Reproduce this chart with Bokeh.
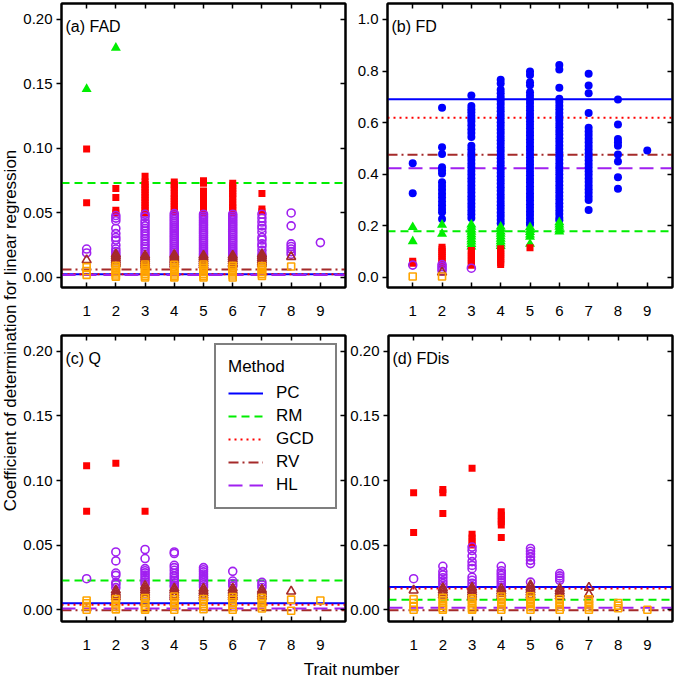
import math
from bokeh.plotting import figure
from bokeh.models import (Range1d, LinearAxis, FixedTicker, PrintfTickFormatter,
                          CustomJSTickFormatter, Label, Legend, LegendItem)
from bokeh.layouts import row, column
from bokeh.embed import file_html
from bokeh.resources import INLINE

FONT = "Liberation Sans"

# ---------------- data ----------------
traits = [1, 2, 3, 4, 5, 6, 7, 8, 9]
method_names = ["PC", "RM", "GCD", "RV", "HL"]
method_colors = ["#0000ff", "#00ee00", "#ff0000", "#a52a2a", "#a020f0"]
extra_color = "#ffa500"

# (a) FAD  -- one list of R^2 values per trait number
fad_pc = [[], [], [], [], [], [], [], [], []]
fad_rm = [[0.146], [0.178], [], [], [], [], [], [], []]
fad_gcd = [
    [0.0995, 0.058],
    [0.069, 0.062, 0.052, 0.050],
    [0.0785, 0.074, 0.072, 0.070, 0.068, 0.066, 0.064, 0.062, 0.060, 0.058, 0.056, 0.054, 0.052, 0.050],
    [0.074, 0.072, 0.070, 0.068, 0.065, 0.063, 0.061, 0.059, 0.057, 0.055, 0.053, 0.051],
    [0.075, 0.073, 0.067, 0.065, 0.062, 0.060, 0.058, 0.056, 0.054, 0.052, 0.050],
    [0.073, 0.071, 0.069, 0.067, 0.065, 0.063, 0.061, 0.058, 0.056, 0.054, 0.052, 0.050],
    [0.065, 0.053, 0.051],
    [], []]
fad_hl = [
    [0.022, 0.019],
    [0.048, 0.046, 0.044, 0.038, 0.034, 0.031, 0.029, 0.025, 0.022, 0.020, 0.018, 0.016],
    [0.049, 0.047, 0.044, 0.042, 0.040, 0.038, 0.036, 0.034, 0.032, 0.030, 0.028, 0.026, 0.024, 0.022, 0.020, 0.018, 0.016],
    [0.0495, 0.048, 0.0465, 0.045, 0.0435, 0.042, 0.0405, 0.039, 0.0375, 0.036, 0.0345, 0.033, 0.0315,
     0.030, 0.0285, 0.027, 0.0255, 0.024, 0.0225, 0.021, 0.0195, 0.018, 0.0165],
    [0.049, 0.0475, 0.046, 0.0445, 0.043, 0.0415, 0.040, 0.0385, 0.037, 0.0355, 0.034, 0.0325, 0.031,
     0.0295, 0.028, 0.0265, 0.025, 0.0235, 0.022, 0.0205, 0.019, 0.0175, 0.016],
    [0.049, 0.0475, 0.046, 0.0445, 0.043, 0.0415, 0.040, 0.0385, 0.037, 0.0355, 0.034, 0.0325, 0.031,
     0.0295, 0.028, 0.0265, 0.025, 0.0235, 0.022, 0.0205, 0.019, 0.0175, 0.016],
    [0.049, 0.046, 0.043, 0.040, 0.038, 0.035, 0.031, 0.029, 0.026, 0.024, 0.021, 0.018, 0.016],
    [0.050, 0.040, 0.026, 0.024, 0.022, 0.020, 0.018],
    [0.027]]
fad_rv = [
    [0.0135],
    [0.018, 0.0165, 0.015, 0.0135, 0.012, 0.0105],
    [0.017, 0.0155, 0.014, 0.0125, 0.011, 0.0095],
    [0.0175, 0.016, 0.0145, 0.013, 0.0115, 0.010],
    [0.017, 0.0155, 0.014, 0.0125, 0.011, 0.0095],
    [0.017, 0.0155, 0.014, 0.0125, 0.011, 0.010],
    [0.018, 0.0165, 0.015, 0.0135, 0.012, 0.0105],
    [0.016],
    []]
fad_or = [
    [0.008, 0.005, 0.002],
    [0.009, 0.0075, 0.006, 0.0045, 0.003, 0.0015, 0.0005],
    [0.010, 0.0085, 0.007, 0.0055, 0.004, 0.0025, 0.001, 0.0],
    [0.0098, 0.0083, 0.0068, 0.0053, 0.0038, 0.0023, 0.0008, 0.0],
    [0.010, 0.0085, 0.007, 0.0055, 0.004, 0.0025, 0.001, 0.0],
    [0.009, 0.0075, 0.006, 0.0045, 0.003, 0.0015, 0.0],
    [0.0088, 0.0072, 0.0057, 0.0042, 0.0027, 0.0012],
    [0.0085],
    []]
fad_lines = [0.0025, 0.0733, 0.0025, 0.0062, 0.0018]   # PC, RM, GCD, RV, HL

# (b) FD
fd_pc = [
    [0.443, 0.327],
    [0.658, 0.505, 0.479, 0.427, 0.415, 0.403, 0.369, 0.355, 0.34, 0.325, 0.31, 0.295, 0.28, 0.265, 0.253, 0.227],
    [0.705, 0.665, 0.652, 0.64, 0.627, 0.615, 0.605, 0.59, 0.575, 0.56, 0.545, 0.511, 0.497, 0.483, 0.469,
     0.455, 0.441, 0.427, 0.413, 0.399, 0.385, 0.371, 0.357, 0.343, 0.329, 0.315, 0.301, 0.287, 0.273,
     0.259, 0.245, 0.231],
    [0.766, 0.752, 0.728, 0.714, 0.70, 0.686, 0.672, 0.658, 0.644, 0.63, 0.616, 0.602, 0.588, 0.574,
     0.56, 0.546, 0.532, 0.518, 0.504, 0.49, 0.476, 0.462, 0.448, 0.434, 0.42, 0.406, 0.392, 0.378,
     0.364, 0.35, 0.336, 0.322, 0.308, 0.294, 0.28, 0.266, 0.252, 0.238, 0.224, 0.21],
    [0.798, 0.785, 0.757, 0.745, 0.718, 0.704, 0.69, 0.676, 0.662, 0.648, 0.634, 0.62, 0.606, 0.592,
     0.578, 0.564, 0.55, 0.536, 0.522, 0.508, 0.494, 0.48, 0.466, 0.452, 0.438, 0.424, 0.41, 0.396,
     0.382, 0.368, 0.354, 0.34, 0.326, 0.312, 0.298, 0.284, 0.27, 0.256, 0.242, 0.228, 0.214, 0.205],
    [0.824, 0.806, 0.735, 0.693, 0.68, 0.666, 0.652, 0.638, 0.624, 0.61, 0.596, 0.582, 0.568, 0.554,
     0.54, 0.526, 0.512, 0.498, 0.484, 0.47, 0.456, 0.442, 0.428, 0.414, 0.40, 0.386, 0.372, 0.358,
     0.344, 0.33, 0.316, 0.302, 0.288, 0.274, 0.26, 0.246, 0.232, 0.222],
    [0.79, 0.744, 0.714, 0.638, 0.58, 0.566, 0.552, 0.538, 0.524, 0.51, 0.496, 0.482, 0.468, 0.454,
     0.44, 0.426, 0.412, 0.398, 0.384, 0.37, 0.356, 0.342, 0.328, 0.314, 0.30, 0.262],
    [0.69, 0.593, 0.537, 0.524, 0.511, 0.477, 0.45, 0.389, 0.344],
    [0.492]]
fd_rm = [
    [0.195, 0.14],
    [0.204, 0.169],
    [0.205, 0.196, 0.186, 0.177, 0.167, 0.158, 0.148, 0.139, 0.129, 0.12],
    [0.197, 0.188, 0.178, 0.169, 0.159, 0.15, 0.14, 0.131, 0.122],
    [0.195, 0.185, 0.176, 0.166, 0.157, 0.13],
    [0.214, 0.205, 0.196, 0.186, 0.178],
    [], [], []]
fd_gcd = [
    [0.063, 0.055],
    [0.117, 0.109, 0.101, 0.093, 0.085, 0.077, 0.069, 0.061, 0.05],
    [0.105, 0.098, 0.09, 0.083, 0.076, 0.068, 0.061, 0.054, 0.047],
    [0.111, 0.104, 0.097, 0.09, 0.082, 0.075, 0.068, 0.058, 0.05],
    [0.115],
    [], [], [], []]
fd_hl = [[0.048], [0.05, 0.042, 0.034, 0.026], [0.036], [], [], [], [], [], []]
fd_rv = [[], [0.02], [], [], [], [], [], [], []]
fd_or = [[0.004], [0.004], [], [], [], [], [], [], []]
fd_lines = [0.691, 0.179, 0.619, 0.4755, 0.4237]

# (c) Q
q_pc = [[], [], [], [], [], [], [], [], []]
q_rm = [[], [], [], [], [], [], [], [], []]
q_gcd = [[0.1115, 0.0763], [0.1134], [0.0763], [], [], [], [], [], []]
q_hl = [
    [0.024],
    [0.0447, 0.0378, 0.0284, 0.0266, 0.021, 0.0196, 0.0171],
    [0.0466, 0.0396, 0.0318, 0.0302, 0.0285, 0.0268, 0.025, 0.0233, 0.0215, 0.0198],
    [0.0447, 0.0435, 0.0344, 0.0326, 0.0305, 0.0282, 0.0262, 0.0243, 0.0225, 0.0208, 0.019, 0.0176],
    [0.0326, 0.031, 0.0293, 0.0276, 0.026, 0.0244, 0.0228, 0.021, 0.0193, 0.0176],
    [0.0297, 0.0222, 0.0203, 0.0185],
    [0.0212, 0.0192, 0.0172],
    [], []]
q_rv = [
    [],
    [0.015, 0.0132, 0.0115, 0.0098],
    [0.0185, 0.0167, 0.015, 0.0132, 0.0114, 0.0097],
    [0.0165, 0.0148, 0.013, 0.0113, 0.0098],
    [0.0163, 0.0145, 0.0128, 0.011, 0.0093],
    [0.0165, 0.0147, 0.013, 0.0112, 0.0098],
    [0.0155, 0.0138, 0.012, 0.0102],
    [0.0142],
    []]
q_or = [
    [0.0072, 0.005, 0.0028, 0.0],
    [0.0082, 0.006, 0.0041, 0.0022, 0.0003],
    [0.009, 0.007, 0.005, 0.0031, 0.0012, 0.0],
    [0.0102, 0.0081, 0.0062, 0.0041, 0.0021, 0.0],
    [0.0083, 0.0062, 0.0043, 0.0024, 0.0004],
    [0.0098, 0.0078, 0.0058, 0.0039, 0.0019, 0.0],
    [0.0092, 0.0072, 0.0051, 0.003, 0.001],
    [0.0078, -0.0008],
    [0.0072]]
q_lines = [0.0051, 0.0227, 0.0038, -0.0003, 0.0009]

# (d) FDis
fdis_pc = [[], [], [], [], [], [], [], [], []]
fdis_rm = [[], [], [], [], [], [], [], [], []]
fdis_gcd = [
    [0.0905, 0.0598],
    [0.093, 0.0905, 0.0745],
    [0.1095, 0.0585, 0.0555, 0.0528, 0.050],
    [0.0758, 0.0732, 0.0705, 0.068, 0.0655, 0.0559],
    [], [], [], [], []]
fdis_hl = [
    [0.024],
    [0.0336, 0.0295, 0.027, 0.0248, 0.0223, 0.0202, 0.018],
    [0.0485, 0.0458, 0.0415, 0.0372, 0.0343, 0.0318, 0.0252, 0.0228, 0.0205, 0.0183],
    [0.0336, 0.0302, 0.0283, 0.0265, 0.0246, 0.0227, 0.0209, 0.019, 0.0172],
    [0.0474, 0.0452, 0.0432, 0.0408, 0.0382, 0.0357, 0.0214],
    [0.028, 0.0262, 0.0245, 0.0228],
    [], [], []]
fdis_rv = [
    [0.015],
    [0.0168, 0.015, 0.0131, 0.0112],
    [0.0172, 0.0153, 0.0134, 0.0115, 0.0098],
    [0.0162, 0.0143, 0.0124, 0.0105],
    [0.019, 0.0171, 0.0152, 0.0133, 0.0114, 0.0097],
    [0.0162, 0.0143, 0.0124, 0.0104],
    [0.0172, 0.012],
    [], []]
fdis_or = [
    [0.0082, 0.0052, 0.0024, 0.0],
    [0.0092, 0.0071, 0.0052, 0.0031, 0.0012, 0.0],
    [0.0088, 0.0069, 0.0049, 0.003, 0.001, 0.0],
    [0.0102, 0.0082, 0.0061, 0.0041, 0.0021, 0.0],
    [0.0104, 0.0084, 0.0063, 0.0042, 0.0021, 0.0],
    [0.0083, 0.0062, 0.0041, 0.0021, 0.0],
    [0.008, 0.006, 0.004, 0.002, 0.0],
    [0.0052, 0.0032, 0.0012],
    [0.0]]
fdis_lines = [0.0176, 0.0078, 0.0165, -0.0004, 0.0016]

small_ticks = [0.0, 0.05, 0.10, 0.15, 0.20]
fd_ticks = [0.0, 0.2, 0.4, 0.6, 0.8, 1.0]

# ---------------- styling / layout ----------------
method_dashes = ["solid", "8 5", "2 4", "10 4 2 4", "14 7"]
FW = 285
XR = (0.14, 9.86)


def flatten(groups):
    xs, ys = [], []
    for t, vals in zip(traits, groups):
        xs.extend([t] * len(vals))
        ys.extend(vals)
    return xs, ys


def style_axis(ax):
    ax.axis_line_color = "black"
    ax.axis_line_width = 2
    ax.major_tick_line_color = "black"
    ax.major_tick_line_width = 1.5
    ax.minor_tick_line_color = None
    ax.major_label_text_font = FONT
    ax.major_label_text_font_size = "15px"
    ax.major_label_text_color = "black"


def make_panel(tag, pc, rm, gcd, rv, hl, orr, lines, yr, yticks, yfmt,
               left, right, top, fh, bottom, legend=False):
    p = figure(width=left + FW + right, height=top + fh + bottom,
               x_range=Range1d(*XR), y_range=Range1d(*yr),
               toolbar_location=None, output_backend="svg", title=None,
               x_axis_location=None, y_axis_location=None,
               min_border_left=left, min_border_right=right,
               min_border_top=top, min_border_bottom=bottom)
    p.xgrid.visible = False
    p.ygrid.visible = False
    p.outline_line_color = "black"
    p.outline_line_width = 2
    p.background_fill_color = "white"
    p.border_fill_color = "white"

    lax = LinearAxis(ticker=FixedTicker(ticks=yticks), formatter=PrintfTickFormatter(format=yfmt),
                     major_tick_out=5, major_tick_in=0, major_label_standoff=4)
    rax = LinearAxis(ticker=FixedTicker(ticks=yticks), formatter=CustomJSTickFormatter(code="return ''"),
                     major_tick_out=0, major_tick_in=5, major_label_standoff=0)
    bax = LinearAxis(ticker=FixedTicker(ticks=traits), formatter=PrintfTickFormatter(format="%d"),
                     major_tick_out=0, major_tick_in=5, major_label_standoff=18)
    tax = LinearAxis(ticker=FixedTicker(ticks=traits), formatter=CustomJSTickFormatter(code="return ''"),
                     major_tick_out=0, major_tick_in=5, major_label_standoff=0)
    for ax in (lax, rax, bax, tax):
        style_axis(ax)
    rax.major_label_text_font_size = "0px"
    tax.major_label_text_font_size = "0px"
    p.add_layout(lax, "left")
    p.add_layout(rax, "right")
    p.add_layout(bax, "below")
    p.add_layout(tax, "above")

    # method reference lines (one horizontal line per method, across the x range)
    line_renderers = []
    for loc, col, dash in zip(lines, method_colors, method_dashes):
        r = p.line(x=[XR[0], XR[1]], y=[loc, loc], line_color=col, line_width=2,
                   line_dash=dash, level="underlay")
        line_renderers.append(r)

    x, y = flatten(pc)
    p.scatter(x, y, marker="circle", size=8, fill_color=method_colors[0], line_color=None)
    x, y = flatten(rm)
    p.scatter(x, y, marker="triangle", size=10, fill_color=method_colors[1], line_color=None)
    x, y = flatten(gcd)
    p.scatter(x, y, marker="square", size=7, fill_color=method_colors[2], line_color=None)
    x, y = flatten(hl)
    p.scatter(x, y, marker="circle", size=8, fill_color=None, line_color=method_colors[4], line_width=1.6)
    x, y = flatten(rv)
    p.scatter(x, y, marker="triangle", size=9, fill_color=None, line_color=method_colors[3], line_width=1.6)
    x, y = flatten(orr)
    p.scatter(x, y, marker="square", size=7, fill_color=None, line_color=extra_color, line_width=1.6)

    # panel tag
    tx = XR[0] + (XR[1] - XR[0]) * 4.0 / FW
    ty = yr[1] - (yr[1] - yr[0]) * 14.0 / fh
    p.add_layout(Label(x=tx, y=ty, text=tag, text_font=FONT, text_font_size="16px",
                       text_color="black", text_baseline="top", text_align="left"))

    if legend:
        items = [LegendItem(label=name, renderers=[r]) for name, r in zip(method_names, line_renderers)]
        leg = Legend(items=items, title="Method", location=(153, 112),
                     title_text_font=FONT, title_text_font_size="17px", title_text_font_style="normal",
                     title_text_color="black", title_standoff=6,
                     label_text_font=FONT, label_text_font_size="17px", label_text_color="black",
                     glyph_width=35, glyph_height=20, label_height=20, label_width=47,
                     label_standoff=13, spacing=3, padding=12, margin=0,
                     border_line_color="black", border_line_width=2,
                     background_fill_color="white", background_fill_alpha=1.0)
        p.add_layout(leg)
    return p


top_yr = (-0.0078, 0.2124)
fd_yr = (-0.0388, 1.062)
bot_yr = (-0.0091, 0.2122)

pa = make_panel("(a) FAD", fad_pc, fad_rm, fad_gcd, fad_rv, fad_hl, fad_or, fad_lines,
                top_yr, small_ticks, "%.2f", 40, 2, 3, 284, 36)
pb = make_panel("(b) FD", fd_pc, fd_rm, fd_gcd, fd_rv, fd_hl, fd_or, fd_lines,
                fd_yr, fd_ticks, "%.1f", 40, 3, 3, 284, 36)
pc_ = make_panel("(c) Q", q_pc, q_rm, q_gcd, q_rv, q_hl, q_or, q_lines,
                 bot_yr, small_ticks, "%.2f", 40, 2, 12, 286, 36, legend=True)
pd_ = make_panel("(d) FDis", fdis_pc, fdis_rm, fdis_gcd, fdis_rv, fdis_hl, fdis_or, fdis_lines,
                 bot_yr, small_ticks, "%.2f", 40, 3, 12, 286, 36)

col_w = pa.width + pb.width
xfig_h = 22
xfig = figure(width=col_w, height=xfig_h, x_range=Range1d(0, col_w), y_range=Range1d(0, xfig_h),
              toolbar_location=None, output_backend="svg", title=None,
              x_axis_location=None, y_axis_location=None, min_border=0)
xfig.xgrid.visible = False
xfig.ygrid.visible = False
xfig.outline_line_color = None
xfig.add_layout(Label(x=331, y=10, text="Trait number", text_font=FONT,
                      text_font_size="17px", text_align="center", text_baseline="middle",
                      text_color="black"))

total_h = pa.height + pc_.height + xfig_h
yfig = figure(width=20, height=total_h, x_range=Range1d(0, 20), y_range=Range1d(0, total_h),
              toolbar_location=None, output_backend="svg", title=None,
              x_axis_location=None, y_axis_location=None, min_border=0)
yfig.xgrid.visible = False
yfig.ygrid.visible = False
yfig.outline_line_color = None
yfig.add_layout(Label(x=10, y=total_h - 330, text="Coefficient of determination for linear regression",
                      text_font=FONT, text_font_size="17px", text_align="center",
                      text_baseline="middle", angle=math.pi / 2, text_color="black"))

layout = row(yfig, column(row(pa, pb), row(pc_, pd_), xfig))

open("out.html", "w").write(file_html(layout, INLINE))
